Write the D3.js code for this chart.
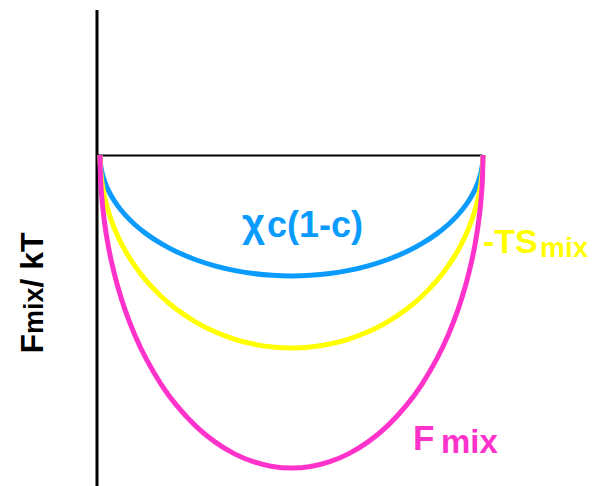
<!DOCTYPE html>
<html>
<head>
<meta charset="utf-8">
<script src="https://cdn.jsdelivr.net/npm/d3@7"></script>
<style>
  html, body { margin: 0; padding: 0; background: #fff; }
  svg { display: block; }
  text { font-family: "Liberation Sans", Arial, sans-serif; font-weight: bold; }
</style>
</head>
<body>
<svg id="chart" width="592" height="486"></svg>
<script>
// Composition c (0..1) and free-energy contributions (units of kT)
const conc = [0, 0.002, 0.006, 0.012, 0.02, 0.03, 0.045, 0.065, 0.09, 0.12, 0.16, 0.2, 0.25, 0.3, 0.35, 0.4, 0.45, 0.5,
              0.55, 0.6, 0.65, 0.7, 0.75, 0.8, 0.84, 0.88, 0.91, 0.935, 0.955, 0.97, 0.98, 0.988, 0.994, 0.998, 1];
// interaction term  chi*c(1-c)
const interaction = [0, -0.0386, -0.0667, -0.0941, -0.1210, -0.1474, -0.1791, -0.2130, -0.2473, -0.2808, -0.3167, -0.3456,
                     -0.3741, -0.3959, -0.4121, -0.4233, -0.4298, -0.4320,
                     -0.4298, -0.4233, -0.4121, -0.3959, -0.3741, -0.3456, -0.3167, -0.2808, -0.2473, -0.2130, -0.1791,
                     -0.1474, -0.1210, -0.0941, -0.0667, -0.0386, 0];
// entropic term  -T S_mix
const entropic = [0, -0.0616, -0.1065, -0.1501, -0.1929, -0.2351, -0.2857, -0.3397, -0.3944, -0.4478, -0.5052, -0.5512,
                  -0.5967, -0.6315, -0.6572, -0.6751, -0.6856, -0.6890,
                  -0.6856, -0.6751, -0.6572, -0.6315, -0.5967, -0.5512, -0.5052, -0.4478, -0.3944, -0.3397, -0.2857,
                  -0.2351, -0.1929, -0.1501, -0.1065, -0.0616, 0];
// total free energy of mixing F_mix
const total = [0, -0.0999, -0.1727, -0.2435, -0.3130, -0.3815, -0.4635, -0.5513, -0.6399, -0.7266, -0.8197, -0.8944,
               -0.9682, -1.0246, -1.0665, -1.0954, -1.1124, -1.1180,
               -1.1124, -1.0954, -1.0665, -1.0246, -0.9682, -0.8944, -0.8197, -0.7266, -0.6399, -0.5513, -0.4635,
               -0.3815, -0.3130, -0.2435, -0.1727, -0.0999, 0];

const seriesNames = ["interaction", "entropic", "total"];
const seriesColors = ["#0a9bff", "#ffff00", "#ff33cc"];

const svg = d3.select("#chart");

const x = d3.scaleLinear().domain([0, 1]).range([100, 483]);
const y = d3.scaleLinear().domain([-1.18, 0.52]).range([485.4, 9.4]);

// vertical axis (no ticks)
svg.append("g")
  .attr("transform", `translate(${x(0) - 3.5},0)`)
  .call(d3.axisLeft(y).tickValues([]).tickSizeOuter(0))
  .call(g => g.select(".domain").attr("stroke", "#000").attr("stroke-width", 3));

// zero line
const xLine = x.copy().range([x(0) - 3, x(1) - 1]);
svg.append("g")
  .attr("transform", `translate(0,${y(0)})`)
  .call(d3.axisBottom(xLine).tickValues([]).tickSizeOuter(0))
  .call(g => g.select(".domain").attr("stroke", "#000").attr("stroke-width", 2));

const line = d3.line()
  .x(d => x(d[0]))
  .y(d => y(d[1]))
  .curve(d3.curveCatmullRom.alpha(0.5));

[interaction, entropic, total].forEach((vals, i) => {
  svg.append("path")
    .datum(conc.map((c, j) => [c, vals[j]]))
    .attr("class", seriesNames[i])
    .attr("fill", "none")
    .attr("stroke", seriesColors[i])
    .attr("stroke-width", 5)
    .attr("d", line);
});

// curve labels
const chiLabel = svg.append("text")
  .attr("x", 242).attr("y", 237)
  .attr("fill", seriesColors[0]);
chiLabel.append("tspan").attr("font-size", 40).text("χ");
chiLabel.append("tspan").attr("x", 267).attr("font-size", 36).text("c(1-c)");

const tsLabel = svg.append("text")
  .attr("x", 483).attr("y", 253)
  .attr("fill", seriesColors[1]);
tsLabel.append("tspan").attr("font-size", 34).text("-TS");
tsLabel.append("tspan").attr("x", 540).attr("font-size", 28).attr("dy", 4).text("mix");

const fLabel = svg.append("text")
  .attr("x", 413).attr("y", 450)
  .attr("fill", seriesColors[2]);
fLabel.append("tspan").attr("font-size", 35).text("F");
fLabel.append("tspan").attr("x", 441).attr("font-size", 33).attr("dy", 3).text("mix");

// y-axis title
const yTitle = svg.append("text")
  .attr("transform", "translate(43,293) rotate(-90)")
  .attr("text-anchor", "middle")
  .attr("fill", "#000");
yTitle.append("tspan").attr("font-size", 32).text("F");
yTitle.append("tspan").attr("font-size", 27).text("mix");
yTitle.append("tspan").attr("font-size", 32).text("/ kT");
</script>
</body>
</html>
